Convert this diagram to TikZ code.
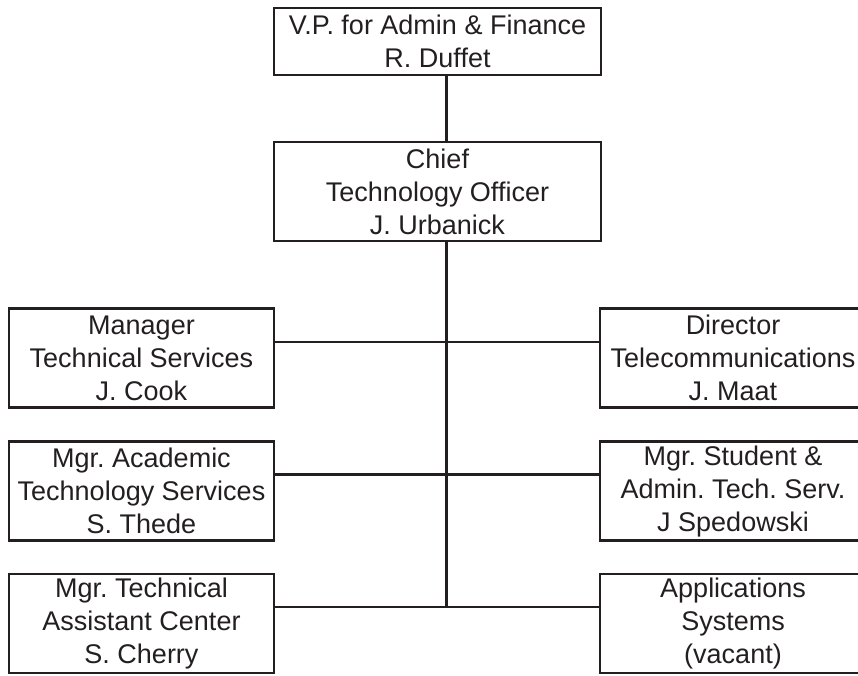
\documentclass[tikz,border=0pt]{standalone}
\usepackage{fontspec}
\setmainfont{Liberation Sans}
\frenchspacing
\definecolor{ink}{HTML}{231F20}
\begin{document}
\begin{tikzpicture}[x=1pt,y=-1pt,
  box/.style={draw=ink, line width=2.7pt, rectangle, inner sep=0pt, align=center,
    text=ink, font=\fontsize{27}{33}\selectfont\frenchspacing},
  link/.style={draw=ink, line width=2.7pt}]
\useasboundingbox (0,0) rectangle (858,675);
\begin{scope}
\clip (0,0) rectangle (858,675);
% top levels
\node[box, minimum width=327pt, minimum height=67pt] (vp) at (437.5,41.5) {V.P. for Admin \& Finance\\R. Duffet};
\node[box, minimum width=327pt, minimum height=99pt] (cto) at (437.5,191.5) {Chief\\Technology Officer\\J. Urbanick};
% left column
\node[box, minimum width=265pt, minimum height=99.5pt] (l1) at (141.5,358) {Manager\\Technical Services\\J. Cook};
\node[box, minimum width=265pt, minimum height=99pt] (l2) at (141.5,491.2) {Mgr. Academic\\Technology Services\\S. Thede};
\node[box, minimum width=265pt, minimum height=99pt] (l3) at (141.5,623.5) {Mgr. Technical\\Assistant Center\\S. Cherry};
% right column
\node[box, minimum width=266pt, minimum height=99.5pt] (r1) at (733,358) {Director\\Telecommunications\\J. Maat};
\node[box, minimum width=266pt, minimum height=99pt] (r2) at (733,491.2) {Mgr. Student \&\\Admin. Tech. Serv.\\J Spedowski};
\node[box, minimum width=266pt, minimum height=99pt] (r3) at (733,623.5) {Applications\\Systems\\(vacant)};
% junctions on the spine
\coordinate (j1) at (446.5,342);
\coordinate (j2) at (446.5,474.5);
\coordinate (j3) at (446.5,607);
% connectors
\draw[link] (vp.south -| j1) -- (cto.north -| j1);
\draw[link] (cto.south -| j1) -- (j3);
\draw[link] (j1 -| l1.east) -- (j1 -| r1.west);
\draw[link] (j2 -| l2.east) -- (j2 -| r2.west);
\draw[link] (j3 -| l3.east) -- (j3 -| r3.west);
\end{scope}
\end{tikzpicture}
\end{document}
